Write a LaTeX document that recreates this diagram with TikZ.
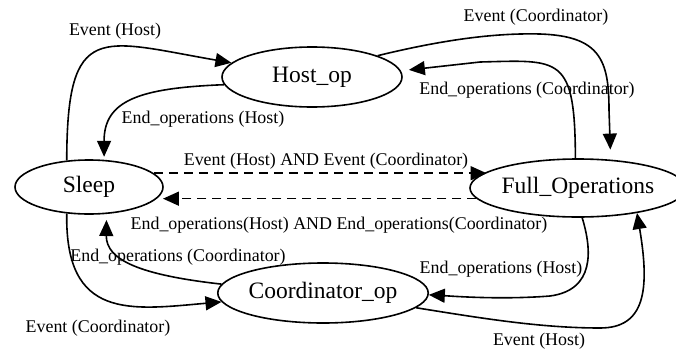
\documentclass[tikz,border=0pt]{standalone}
\usepackage{fontspec}
\setmainfont{Liberation Serif}
\usetikzlibrary{arrows.meta,shapes.geometric}
\begin{document}
\begin{tikzpicture}[x=1pt,y=-1pt,
  state/.style={ellipse,draw,line width=1.6pt,inner sep=0pt,font=\fontsize{23.5}{26}\selectfont},
  lbl/.style={inner sep=0pt,font=\fontsize{17.9}{20}\selectfont},
  edge/.style={line width=1.6pt,-{Triangle[length=16pt,width=14pt]}},
  dedge/.style={edge,dash pattern=on 9pt off 6pt}]
\useasboundingbox (0,0) rectangle (676,351);
\node[state,minimum width=148pt,minimum height=54pt] (sleep) at (89,187) {Sleep};
\node[state,minimum width=180pt,minimum height=60pt] (host) at (312,77) {Host\_op};
\node[state,minimum width=182pt,minimum height=58pt] (full) at (578,188) {Full\_Operations};
\node[state,minimum width=186pt,minimum height=60pt] (coord) at (323,293) {Coordinator\_op};
% edges
\draw[edge] (sleep.130) .. controls (67,20) and (100,40) .. (host.170);
\draw[edge,shorten >=3pt] (host.185) .. controls (140,88) and (104,100) .. (sleep.61);
\draw[edge,shorten >=10pt] (host.18) .. controls (450,38) and (500,33) .. (540,34) .. controls (600,36) and (609,60) .. (609,110) -- (full.41);
\draw[edge,shorten >=8pt] (full.95) .. controls (575,55) and (560,60) .. (480,62) -- (host.4);
\draw[dedge] (sleep.12) -- (sleep.12 -| full.170);
\draw[dedge,shorten >=4pt] (full.186) -- (full.186 -| sleep.-8);
\draw[edge,shorten >=6pt] (coord.175) .. controls (140,275) and (106,260) .. (sleep.-57);
\draw[edge] (sleep.-130) .. controls (65,320) and (130,310) .. (coord.185);
\draw[edge] (full.-82) .. controls (592,250) and (595,290) .. (550,296) .. controls (500,300) and (450,296) .. (coord.-1);
\draw[edge] (coord.-9) .. controls (480,318) and (540,328) .. (600,328) .. controls (645,328) and (650,290) .. (full.-23);
% labels
\node[lbl] (l1) at (115,31) {Event (Host)};
\node[lbl] (l2) at (203,119) {End\_operations (Host)};
\node[lbl] (l3) at (536,17) {Event (Coordinator)};
\node[lbl] (l4) at (527,90) {End\_operations (Coordinator)};
\node[lbl] (l5) at (326,161) {Event (Host) AND Event (Coordinator)};
\node[lbl] (l6) at (339,225) {End\_operations(Host) AND End\_operations(Coordinator)};
\node[lbl] (l7) at (178,257) {End\_operations (Coordinator)};
\node[lbl] (l8) at (98,328) {Event (Coordinator)};
\node[lbl] (l9) at (501,269) {End\_operations (Host)};
\node[lbl] (l10) at (539,341) {Event (Host)};
\end{tikzpicture}
\end{document}
